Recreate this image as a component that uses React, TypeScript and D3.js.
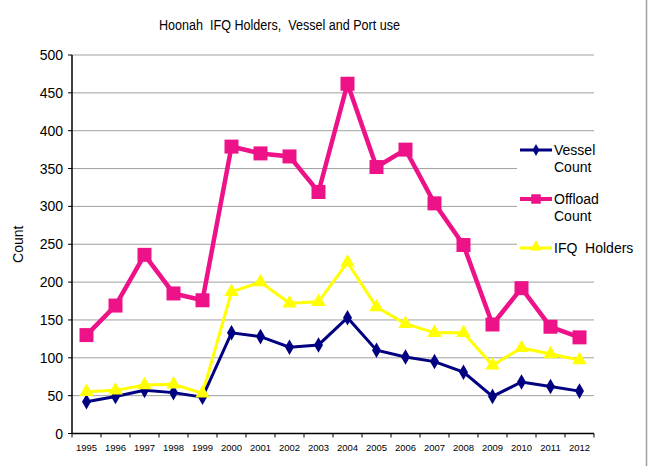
import React from "react";
import * as d3 from "d3";

const years = ["1995","1996","1997","1998","1999","2000","2001","2002","2003","2004","2005","2006","2007","2008","2009","2010","2011","2012"];
const vesselCount = [42, 49, 57, 54, 48, 133, 128, 114, 117, 153, 110, 101, 95, 81, 49, 68, 62, 56];
const offloadCount = [130, 169, 236, 185, 176, 379, 370, 366, 319, 462, 352, 375, 304, 249, 144, 192, 141, 127];
const ifqHolders = [55, 57, 64, 65, 53, 187, 200, 172, 174, 226, 167, 145, 133, 133, 90, 113, 105, 97];
const yTicks = [0, 50, 100, 150, 200, 250, 300, 350, 400, 450, 500];

const W = 652, H = 466;
const left = 72, right = 594, top = 55, bottom = 433.5;

export default function App() {
  const x = d3.scaleBand<string>().domain(years).range([left, right]);
  const y = d3.scaleLinear().domain([0, 500]).range([bottom, top]);
  const cx = (i: number) => (x(years[i]) as number) + x.bandwidth() / 2;
  const line = (vals: number[]) =>
    d3.line<number>().x((_, i) => cx(i)).y((d) => y(d))(vals) as string;

  const diamond = d3.symbol().type(d3.symbolDiamond).size(70)() as string;
  const square = d3.symbol().type(d3.symbolSquare).size(196)() as string;
  const triangle = d3.symbol().type(d3.symbolTriangle).size(90)() as string;

  const font = "'Liberation Sans', Arial, sans-serif";
  const magenta = "#EE1289";
  const navy = "#000080";
  const yellow = "#FFFF00";

  return (
    <svg width={W} height={H} style={{ position: "absolute", left: 0, top: 0 }} fontFamily={font}>
      <rect x={0} y={0} width={W} height={H} fill="#fff" />
      <line x1={646.5} x2={646.5} y1={0} y2={H} stroke="#a0a0a0" strokeWidth={1.5} />
      <text x={159} y={30} fontSize={14} fill="#000" textLength={241} lengthAdjust="spacingAndGlyphs" style={{ whiteSpace: "pre" }}>
        {"Hoonah  IFQ Holders,  Vessel and Port use"}
      </text>
      {yTicks.map((t) => (
        <g key={t}>
          {t > 0 && (
            <line x1={left} x2={right} y1={y(t)} y2={y(t)}
              stroke={t === 500 ? "#d0d0d0" : "#a0a0a0"} strokeWidth={t === 500 ? 2 : 1} />
          )}
          <line x1={left - 4} x2={left} y1={y(t)} y2={y(t)} stroke="#000" />
          <text x={63} y={y(t) + 5} textAnchor="end" fontSize={14} fill="#000">{t}</text>
        </g>
      ))}
      <line x1={left} x2={left} y1={top} y2={bottom} stroke="#000" strokeWidth={1.5} />
      <line x1={left} x2={right} y1={bottom} y2={bottom} stroke="#000" strokeWidth={1.5} />
      {years.map((yr, i) => (
        <g key={yr}>
          <line x1={(x(yr) as number)} x2={(x(yr) as number)} y1={bottom} y2={bottom + 4} stroke="#000" />
          <text x={cx(i)} y={451} textAnchor="middle" fontSize={9.5} fill="#000">{yr}</text>
        </g>
      ))}
      <line x1={right} x2={right} y1={bottom} y2={bottom + 4} stroke="#000" />
      <text transform={`translate(23,${(top + bottom) / 2}) rotate(-90)`} textAnchor="middle" fontSize={14} fill="#000">Count</text>

      {/* legend background */}
      <rect x={517} y={135} width={125} height={125} fill="#fff" />

      <path d={line(ifqHolders)} fill="none" stroke={yellow} strokeWidth={3} strokeLinejoin="miter" />
      <path d={line(vesselCount)} fill="none" stroke={navy} strokeWidth={3} />
      <path d={line(offloadCount)} fill="none" stroke={magenta} strokeWidth={4.5} />

      {vesselCount.map((v, i) => (
        <path key={"v" + i} d={diamond} transform={`translate(${cx(i)},${y(v)})`} fill={navy} />
      ))}
      {ifqHolders.map((v, i) => (
        <path key={"f" + i} d={triangle} transform={`translate(${cx(i)},${y(v)})`} fill={yellow} />
      ))}
      {offloadCount.map((v, i) => (
        <path key={"o" + i} d={square} transform={`translate(${cx(i)},${y(v)})`} fill={magenta} />
      ))}

      {/* legend */}
      <g fontSize={14} fill="#000">
        <line x1={520} x2={552} y1={150} y2={150} stroke={navy} strokeWidth={3} />
        <path d={d3.symbol().type(d3.symbolDiamond).size(40)() as string} transform="translate(536,150)" fill={navy} />
        <text x={554} y={155}>Vessel</text>
        <text x={554} y={172}>Count</text>

        <line x1={520} x2={552} y1={199} y2={199} stroke={magenta} strokeWidth={4} />
        <path d={d3.symbol().type(d3.symbolSquare).size(90)() as string} transform="translate(536,199)" fill={magenta} />
        <text x={554} y={204}>Offload</text>
        <text x={554} y={221}>Count</text>

        <line x1={520} x2={552} y1={248} y2={248} stroke={yellow} strokeWidth={3} />
        <path d={d3.symbol().type(d3.symbolTriangle).size(60)() as string} transform="translate(536,247)" fill={yellow} />
        <text x={554} y={253} style={{ whiteSpace: "pre" }}>{"IFQ  Holders"}</text>
      </g>
    </svg>
  );
}
